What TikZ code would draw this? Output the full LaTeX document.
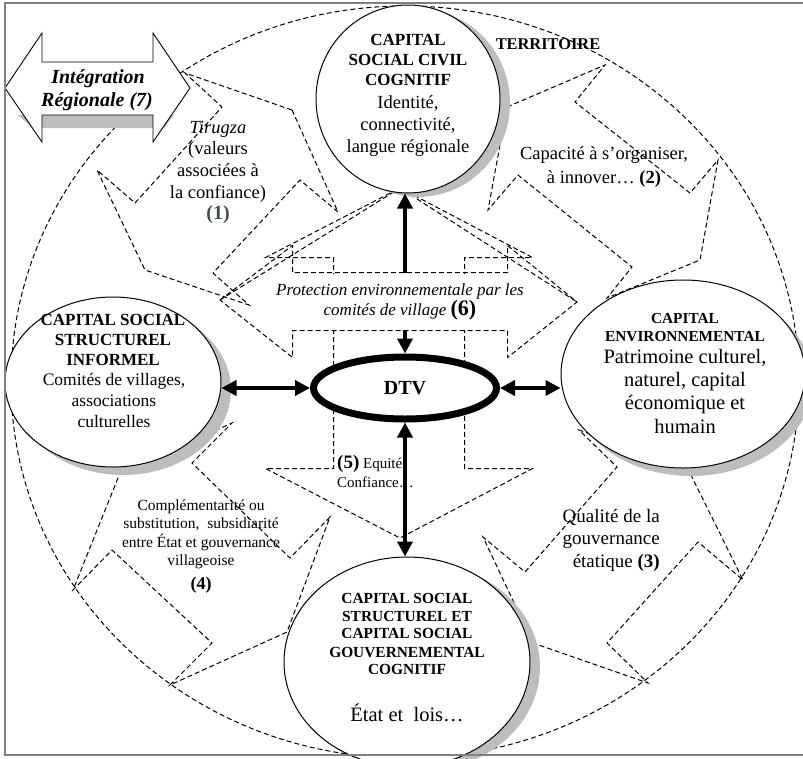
\documentclass[tikz,border=0pt]{standalone}
\usepackage{fontspec}
\setmainfont{Liberation Serif}
\usetikzlibrary{shapes.geometric,arrows.meta}
\definecolor{shadowgray}{gray}{0.74}
\definecolor{numcol}{RGB}{62,78,78}
\definecolor{framecol}{gray}{0.5}
\begin{document}
\begin{tikzpicture}[x=1pt,y=-1pt,
  dashline/.style={dash pattern=on 5pt off 3pt, line width=1pt, black},
  capnode/.style={ellipse, draw, line width=1pt, fill=white, inner sep=0pt},
  solidarr/.style={line width=3.6pt, -{Triangle[length=15pt,width=15pt]}},
  solidarrs/.style={line width=3.6pt, {Triangle[length=15pt,width=15pt]}-{Triangle[length=15pt,width=15pt]}},
  tr/.style={inner sep=0pt, anchor=base, font=\fontsize{#1}{#1}\selectfont},
  tb/.style={inner sep=0pt, anchor=base, font=\fontsize{#1}{#1}\selectfont\bfseries},
  ti/.style={inner sep=0pt, anchor=base, font=\fontsize{#1}{#1}\selectfont\itshape},
]
\path[use as bounding box] (0,0) rectangle (803,758);
\begin{scope}
\clip (0,0) rectangle (803,758);
% territory
\draw[dashline] (405,382) ellipse [x radius=394, y radius=376];
% (1)
\draw[dashline] (292,110) -- (338,212) -- (300,180) -- (213,273) -- (249,305) -- (145,270) -- (97,170) -- (135,203) -- (222,107) -- (185,73) -- cycle;
% (2)
\draw[dashline] (507,107) -- (605,65) -- (575,102) -- (690,193) -- (718,160) -- (700,260) -- (607,298) -- (632,267) -- (518,175) -- (488,210) -- cycle;
% (3)
\draw[dashline] (687,467) -- (743,580) -- (698,542) -- (607,643) -- (648,683) -- (533,643) -- (483,537) -- (525,572) -- (617,467) -- (579,430) -- cycle;
% (4)
\draw[dashline] (120,473) -- (232,423) -- (192,463) -- (290,558) -- (330,517) -- (287,632) -- (170,685) -- (212,643) -- (112,550) -- (73,590) -- cycle;
% (6) horizontal double arrow
\draw[dashline] (220,300) -- (292.5,245.5) -- (292.5,272.5) -- (507.5,272.5) -- (507.5,245.5) -- (577,302) -- (507.5,357.5) -- (507.5,330.5) -- (292.5,330.5) -- (292.5,357.5) -- cycle;
% (5) vertical double arrow
\draw[dashline] (400,188) -- (532.5,257.5) -- (464.5,257.5) -- (464.5,468.5) -- (532.5,468.5) -- (400,538) -- (265.5,468.5) -- (333.5,468.5) -- (333.5,257.5) -- (265.5,257.5) -- cycle;
\draw[dashline] (220,300) -- (400,188) -- (577,302);
% shadows
\fill[shadowgray] (418,103) ellipse [x radius=92, y radius=94];
\fill[shadowgray] (123,390) ellipse [x radius=108, y radius=85];
\fill[shadowgray] (691,382) ellipse [x radius=122, y radius=94];
\fill[shadowgray] (417,667) ellipse [x radius=123, y radius=105];
% capitals
\node[capnode, minimum width=184pt, minimum height=188pt] (ncivil) at (408,99) {};
\node[capnode, minimum width=216pt, minimum height=170pt] (ninformel) at (113,382) {};
\node[capnode, minimum width=244pt, minimum height=188pt] (nenv) at (683,374) {};
\node[capnode, minimum width=246pt, minimum height=210pt] (ngouv) at (407,662) {};
\node[ellipse, draw, line width=7pt, fill=white, inner sep=0pt, minimum width=183pt, minimum height=62pt, font=\fontsize{20}{20}\selectfont\bfseries] (dtv) at (405,388) {DTV};
% integration arrow
\fill[shadowgray] (18,115) -- (174,115) -- (164,128) -- (33,128) -- cycle;
\draw[line width=0.9pt, fill=white] (5,88) -- (42,33) -- (42,62) -- (153,62) -- (153,33) -- (190,88) -- (153,142) -- (153,115) -- (42,115) -- (42,142) -- cycle;
\node[inner sep=0pt, anchor=base, font=\fontsize{20}{20}\selectfont\bfseries\itshape] (int1) at (98,83.5) {Intégration};
\node[inner sep=0pt, anchor=base, font=\fontsize{20}{20}\selectfont\bfseries\itshape] (int2) at (97,106.5) {Régionale (7)};
% (6) text with white background
\node[fill=white, inner xsep=1pt, inner ysep=0pt, minimum height=56pt, align=center] (t6) at (400,301.5)
  {\fontsize{17}{26}\selectfont\itshape Protection environnementale par les\\
   \fontsize{17}{26}\selectfont\itshape comités de village {\upshape\bfseries\fontsize{22}{26}\selectfont(6)}};
% solid arrows
\draw[solidarr] (t6.north -| dtv.center) -- (dtv.center |- ncivil.south);
\draw[solidarr] (t6.south -| dtv.center) -- (dtv.north);
\draw[solidarrs] (dtv.south) -- (dtv.center |- ngouv.north);
\draw[solidarrs] (dtv.west) -- (ninformel.east |- dtv.west);
\draw[solidarrs] (dtv.east) -- (nenv.west |- dtv.east);
% texts top circle
\node[tb=17] (c1a) at (408,45.5) {CAPITAL};
\node[tb=17] (c1b) at (408,65.5) {SOCIAL CIVIL};
\node[tb=17] (c1c) at (408,85.5) {COGNITIF};
\node[tr=18.5] (c1d) at (408,108) {Identité,};
\node[tr=18.5] (c1e) at (408,130) {connectivité,};
\node[tr=18.5] (c1f) at (408,152) {langue régionale};
% left ellipse
\node[tb=17] (c4a) at (113,325.5) {CAPITAL SOCIAL};
\node[tb=17] (c4b) at (113,345.5) {STRUCTUREL};
\node[tb=17] (c4c) at (113,365.5) {INFORMEL};
\node[tr=17.5] (c4d) at (114,385.5) {Comités de villages,};
\node[tr=17.5] (c4e) at (114,406.5) {associations};
\node[tr=17.5] (c4f) at (114,427.5) {culturelles};
% right ellipse
\node[tb=15.3] (c2a) at (685,323) {CAPITAL};
\node[tb=15.3] (c2b) at (685,341) {ENVIRONNEMENTAL};
\node[tr=20.5] (c2c) at (685,363.5) {Patrimoine culturel,};
\node[tr=20.5] (c2d) at (685,386.5) {naturel, capital};
\node[tr=20.5] (c2e) at (685,409.5) {économique et};
\node[tr=20.5] (c2f) at (685,433.5) {humain};
% bottom ellipse
\node[tb=15.4] (c3a) at (407,603) {CAPITAL SOCIAL};
\node[tb=15.4] (c3b) at (407,621) {STRUCTUREL ET};
\node[tb=15.4] (c3c) at (407,638.5) {CAPITAL SOCIAL};
\node[tb=15.4] (c3d) at (407,657) {GOUVERNEMENTAL};
\node[tb=15.4] (c3e) at (407,674.5) {COGNITIF};
\node[tr=20.5] (c3f) at (407,721.5) {État et~ lois…};
% territoire
\node[tb=16.4] (terr) at (548,49.5) {TERRITOIRE};
% (1)
\node[ti=18.5] (l1a) at (218,133) {Tirugza};
\node[tr=18.5] (l1b) at (218,154) {(valeurs};
\node[tr=18.5] (l1c) at (218,176) {associées à};
\node[tr=18.5] (l1d) at (218,198) {la confiance)};
\node[tb=20, text=numcol] (l1e) at (218,219.5) {(1)};
% (2)
\node[tr=18.5] (l2a) at (604,159) {Capacité à s’organiser,};
\node[tr=18.5] (l2b) at (604,183) {à innover… \textbf{(2)}};
% (3)
\node[tr=19, anchor=base east] (l3a) at (660,522) {Qualité de la};
\node[tr=19, anchor=base east] (l3b) at (660,544) {gouvernance};
\node[tr=19, anchor=base east] (l3c) at (660,567) {étatique \textbf{(3)}};
% (4)
\node[tr=15.5] (l4a) at (201,510) {Complémentarité ou};
\node[tr=15.5] (l4b) at (201,528.5) {substitution,~ subsidiarité};
\node[tr=15.5] (l4c) at (201,547) {entre État et gouvernance};
\node[tr=15.5] (l4d) at (201,565.5) {villageoise};
\node[tb=18] (l4e) at (201,589) {(4)};
% (5)
\node[tr=15, anchor=base west] (l5a) at (337,468) {{\bfseries\fontsize{19}{19}\selectfont(5)} Equité};
\node[tr=15, anchor=base west] (l5b) at (337,487) {Confiance…};
% frame
\draw[framecol, line width=1.2pt] (803,3) -- (5,3) -- (5,755) -- (803,755);
\end{scope}
\end{tikzpicture}
\end{document}
